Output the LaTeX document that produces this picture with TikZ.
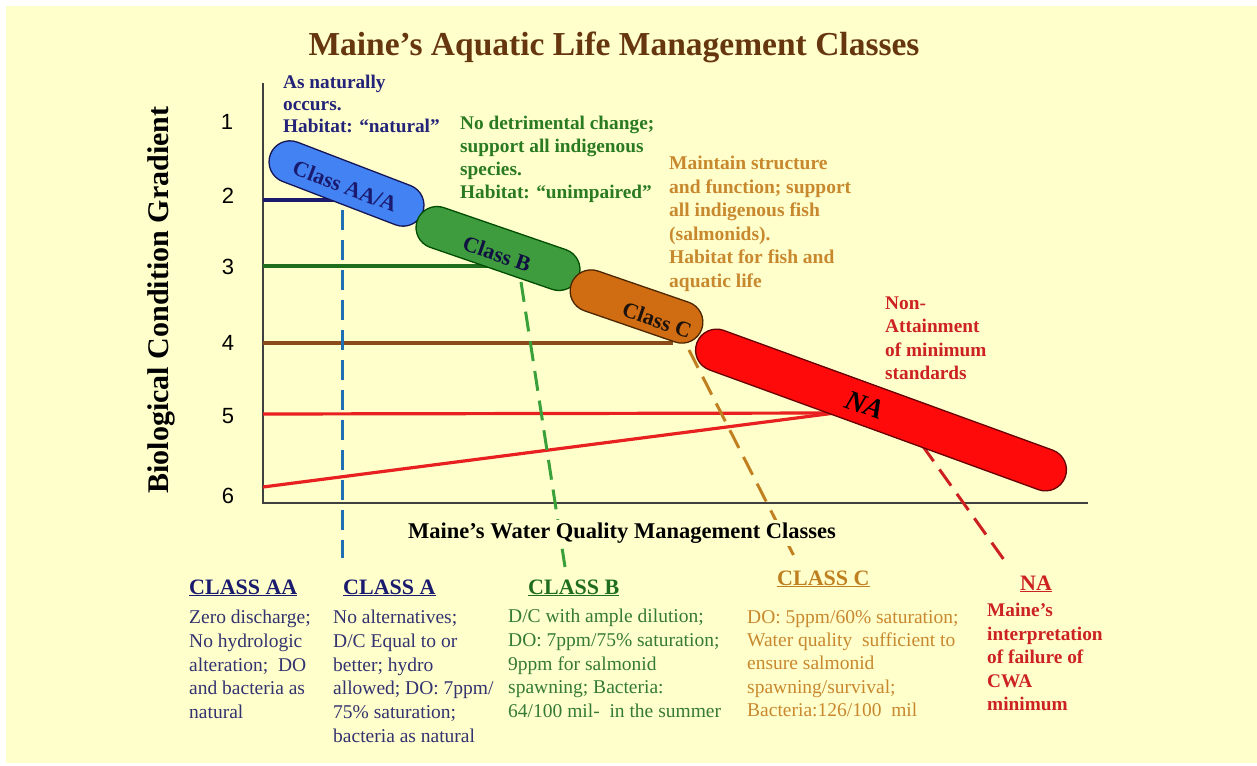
\documentclass[tikz,border=0pt]{standalone}
\usepackage{fontspec}
\setmainfont{Liberation Serif}
\newfontfamily\arialfont{Liberation Sans}

\definecolor{bgyellow}{HTML}{FFFFCC}
\definecolor{titlebrown}{HTML}{66360F}
\definecolor{navytxt}{HTML}{23237A}
\definecolor{navybody}{HTML}{333370}
\definecolor{greentxt}{HTML}{2A7A22}
\definecolor{greenbody}{HTML}{357A35}
\definecolor{orangetxt}{HTML}{C8882E}
\definecolor{redtxt}{HTML}{CC2222}
\definecolor{capblue}{HTML}{4282F2}
\definecolor{capgreen}{HTML}{3E9C3E}
\definecolor{caporange}{HTML}{D06C12}
\definecolor{capred}{HTML}{FF0A0A}
\definecolor{lnavy}{HTML}{1A1A6E}
\definecolor{lgreen}{HTML}{1E6E1E}
\definecolor{lbrown}{HTML}{8B4A1A}
\definecolor{lred}{HTML}{E82020}
\definecolor{dblue}{HTML}{1F6FB5}
\definecolor{dgreen}{HTML}{3AA03A}
\definecolor{dorange}{HTML}{C08020}
\definecolor{dred}{HTML}{CC2020}

\begin{document}
\begin{tikzpicture}[x=1pt,y=-1pt,
  capsule/.style={rectangle, rounded corners=21pt, minimum height=42pt,
    inner sep=0pt, line width=1.3pt},
  captext/.style={font=\fontsize{22}{26}\selectfont\bfseries, inner sep=0pt},
  level/.style={line width=3.2pt},
  dashline/.style={line width=3pt, dash pattern=on 20pt off 10pt},
  ticklabel/.style={font=\arialfont\fontsize{22}{26}\selectfont, inner sep=0pt},
  toptext/.style={anchor=north west, inner sep=0pt, align=left,
    font=\fontsize{19.3}{23.3}\selectfont\bfseries},
  head/.style={anchor=base west, inner sep=0pt,
    font=\fontsize{22}{26}\selectfont\bfseries},
  body/.style={anchor=north west, inner sep=0pt, align=left,
    font=\fontsize{19.5}{23.7}\selectfont}]

\useasboundingbox (0,0) rectangle (1257,765);
\fill[white] (0,0) rectangle (1257,765);
\fill[bgyellow] (6,6) rectangle (1257,763);

% title and axis labels
\node[font=\fontsize{33.5}{38}\selectfont\bfseries, text=titlebrown] (title) at (614,47)
  {Maine’s Aquatic Life Management Classes};
\node[rotate=90, font=\fontsize{30}{34}\selectfont\bfseries] (ylabel) at (161,300)
  {Biological Condition Gradient};

% axes
\coordinate (ytop) at (263,83);
\coordinate (origin) at (263,503);
\coordinate (xend) at (1088,503);
\draw[line width=1.2pt, black!75] (ytop) -- (origin) -- (xend);

% tick labels
\node[ticklabel] (n1) at (227,122) {1};
\node[ticklabel] (n2) at (228,196) {2};
\node[ticklabel] (n3) at (228,267) {3};
\node[ticklabel] (n4) at (228,343) {4};
\node[ticklabel] (n5) at (228,416) {5};
\node[ticklabel] (n6) at (228,496) {6};

% level lines from the axis to the classes
\coordinate (y2) at (263,200);  \coordinate (e2) at (343,200);
\coordinate (y3) at (263,266);  \coordinate (e3) at (500,266);
\coordinate (y4) at (263,343);  \coordinate (e4) at (673,343);
\coordinate (y5) at (263,414);  \coordinate (e5) at (835,413);
\coordinate (y6) at (263,487);
\draw[level, lnavy] (y2) -- (e2);
\draw[level, lgreen] (y3) -- (e3);
\draw[level, lbrown] (y4) -- (e4);
\draw[level, lred] (y5) -- (e5);
\draw[level, lred] (y6) -- (e5);

% dashed drop lines to the class descriptions
\coordinate (da1) at (342,210); \coordinate (da2) at (342,558);
\coordinate (db1) at (521,282); \coordinate (db2) at (565,567);
\coordinate (dc1) at (689,350); \coordinate (dc2) at (796,560);
\coordinate (dn1) at (922,445); \coordinate (dn2) at (1007,564);
\draw[dashline, dblue] (da1) -- (da2);
\draw[dashline, dgreen] (db1) -- (db2);
\draw[dashline, dorange] (dc1) -- (dc2);
\draw[dashline, dred] (dn1) -- (dn2);

% axis title sits on its own patch of background over the drop lines
\node[font=\fontsize{22.5}{26}\selectfont\bfseries, fill=bgyellow, inner sep=3pt] (xlabel) at (622,533)
  {Maine’s Water Quality Management Classes};

% class capsules
\node[capsule, fill=capblue, draw=lnavy!80!black, minimum width=163pt, rotate=-21]
  (aa) at (346.5,183.5) {};
\node[capsule, fill=capgreen, draw=black!70!green, minimum width=171pt, rotate=-19]
  (cb) at (498,248.5) {};
\node[capsule, fill=capred, draw=black!60!red, minimum width=392pt, rotate=-20]
  (na) at (881,410) {};
\node[capsule, fill=caporange, draw=black!70!orange, minimum width=138pt, rotate=-19]
  (cc) at (636.5,306.5) {};

\node[captext, text=lnavy, rotate=-21] (aat) at (345,186) {Class AA/A};
\node[captext, text=lnavy!60!black, rotate=-19] (cbt) at (497,254) {Class B};
\node[captext, text=black!85!brown, rotate=-19] (cct) at (657,320) {Class C};
\node[captext, font=\fontsize{28}{32}\selectfont\bfseries\itshape, text=black, rotate=-20]
  (nat) at (865,405) {NA};

% descriptions along the gradient
\node[toptext, text=navytxt, font=\fontsize{19.3}{22}\selectfont\bfseries] (tAA) at (283,75)
  {As naturally\\occurs.\\Habitat: “natural”};
\node[toptext, text=greentxt] (tB) at (460,115.5)
  {No detrimental change;\\support all indigenous\\species.\\Habitat: “unimpaired”};
\node[toptext, text=orangetxt, font=\fontsize{19.5}{23.5}\selectfont\bfseries] (tC) at (669,156)
  {Maintain structure\\and function; support\\all indigenous fish\\(salmonids).\\Habitat for fish and\\aquatic life};
\node[toptext, text=redtxt, font=\fontsize{19.3}{23.5}\selectfont\bfseries] (tNA) at (885,296.5)
  {Non-\\Attainment\\of minimum\\standards};

% class descriptions below the axis
\node[head, text=lnavy] (hAA) at (189,594) {\underline{CLASS AA}};
\node[head, text=lnavy] (hA) at (343,594) {\underline{CLASS A}};
\node[head, text=lgreen] (hB) at (528,594) {\underline{CLASS B}};
\node[head, text=dorange] (hC) at (777,585) {\underline{CLASS C}};
\node[head, text=redtxt] (hNA) at (1020,590) {\underline{NA}};

\node[body, text=navybody] (bAA) at (189,610)
  {Zero discharge;\\No hydrologic\\alteration;\ \ DO\\and bacteria as\\natural};
\node[body, text=navybody] (bA) at (333,610)
  {No alternatives;\\D/C Equal to or\\better; hydro\\allowed; DO: 7ppm/\\75\% saturation;\\bacteria as natural};
\node[body, text=greenbody] (bB) at (508,609)
  {D/C with ample dilution;\\DO: 7ppm/75\% saturation;\\9ppm for salmonid\\spawning; Bacteria:\\64/100 mil-\ \ in the summer};
\node[body, text=orangetxt, font=\fontsize{19.5}{23.3}\selectfont] (bC) at (747,610)
  {DO: 5ppm/60\% saturation;\\Water quality\ \ sufficient to\\ensure salmonid\\spawning/survival;\\Bacteria:126/100\ \ mil};
\node[body, text=redtxt, font=\fontsize{19.3}{23.5}\selectfont\bfseries] (bNA) at (987,603)
  {Maine’s\\interpretation\\of failure of\\CWA\\minimum};
\end{tikzpicture}
\end{document}
